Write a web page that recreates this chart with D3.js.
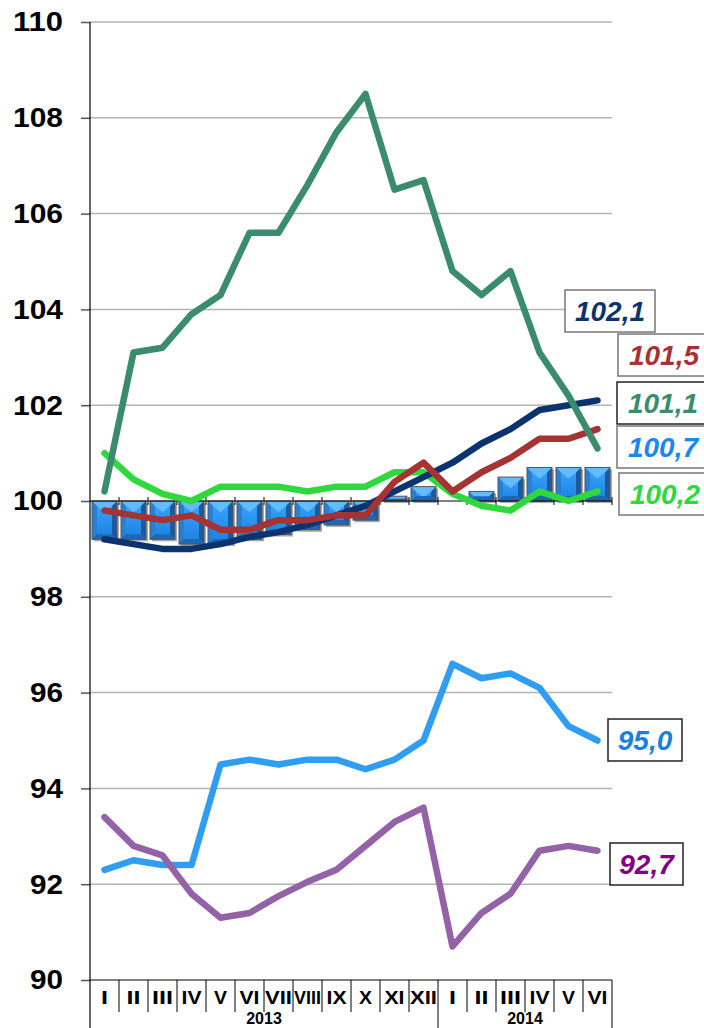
<!DOCTYPE html>
<html>
<head>
<meta charset="utf-8">
<script src="https://cdn.jsdelivr.net/npm/d3@7"></script>
<style>
  html, body { margin: 0; padding: 0; background: #fff; }
  svg { display: block; font-family: "Liberation Sans", Arial, sans-serif; }
</style>
</head>
<body>
<div id="chart"></div>
<script>
// Données
const months = ["I","II","III","IV","V","VI","VII","VIII","IX","X","XI","XII","I","II","III","IV","V","VI"];
const years = [{ label: "2013", from: 0, to: 12 }, { label: "2014", from: 12, to: 18 }];
const yTicks = [90, 92, 94, 96, 98, 100, 102, 104, 106, 108, 110];

const barValues   = [99.2, 99.2, 99.2, 99.1, 99.1, 99.2, 99.3, 99.4, 99.5, 99.6, 100.1, 100.3, 100.0, 100.2, 100.5, 100.7, 100.7, 100.7];
const seaGreen    = [100.2, 103.1, 103.2, 103.9, 104.3, 105.6, 105.6, 106.6, 107.7, 108.5, 106.5, 106.7, 104.8, 104.3, 104.8, 103.1, 102.2, 101.1];
const navy        = [99.2, 99.1, 99.0, 99.0, 99.1, 99.25, 99.35, 99.5, 99.7, 99.9, 100.2, 100.5, 100.8, 101.2, 101.5, 101.9, 102.0, 102.1];
const red         = [99.8, 99.7, 99.6, 99.7, 99.4, 99.4, 99.6, 99.6, 99.7, 99.7, 100.4, 100.8, 100.2, 100.6, 100.9, 101.3, 101.3, 101.5];
const lightGreen  = [101.0, 100.45, 100.15, 100.0, 100.3, 100.3, 100.3, 100.2, 100.3, 100.3, 100.6, 100.6, 100.15, 99.9, 99.8, 100.2, 100.0, 100.2];
const skyBlue     = [92.3, 92.5, 92.4, 92.4, 94.5, 94.6, 94.5, 94.6, 94.6, 94.4, 94.6, 95.0, 96.6, 96.3, 96.4, 96.1, 95.3, 95.0];
const purple      = [93.4, 92.8, 92.6, 91.8, 91.3, 91.4, 91.75, 92.05, 92.3, 92.8, 93.3, 93.6, 90.7, 91.4, 91.8, 92.7, 92.8, 92.7];

// Séries (ordre de dessin : le dernier est au-dessus)
const series = [
  { name: "skyBlue",    values: skyBlue,    color: "#2f9ef2", text: "#1a7fdf" },
  { name: "purple",     values: purple,     color: "#9462a6", text: "#800080" },
  { name: "lightGreen", values: lightGreen, color: "#2fd83c", text: "#2fd83c" },
  { name: "navy",       values: navy,       color: "#0b336e", text: "#0b336e" },
  { name: "red",        values: red,        color: "#a63333", text: "#a63333" },
  { name: "seaGreen",   values: seaGreen,   color: "#3a8c6c", text: "#3a8c6c" }
];

// Étiquettes finales (mise en page)
const labelBoxes = {
  navy:       { x: 565, y: 290, w: 90, stroke: "#777" },
  red:        { x: 618, y: 334, w: 92, stroke: "#777" },
  seaGreen:   { x: 617, y: 382, w: 92, stroke: "#222" },
  bars:       { x: 617, y: 426, w: 92, stroke: "#777" },
  lightGreen: { x: 619, y: 473, w: 92, stroke: "#777" },
  skyBlue:    { x: 608, y: 719, w: 74, stroke: "#222" },
  purple:     { x: 610, y: 843, w: 73, stroke: "#222" }
};

const W = 704, H = 1028;
const margin = { top: 22, left: 90 };
const plotW = 522, plotH = 958;

const svg = d3.select("#chart").append("svg")
  .attr("width", W).attr("height", H);

const x = d3.scaleBand().domain(d3.range(months.length)).range([margin.left, margin.left + plotW]).padding(0);
const y = d3.scaleLinear().domain([90, 110]).range([margin.top + plotH, margin.top]);
const fmt = v => d3.format(".1f")(v).replace(".", ",");

// Grille
svg.append("g").selectAll("line")
  .data(yTicks.filter(t => t !== 90 && t !== 100))
  .join("line")
  .attr("x1", margin.left).attr("x2", margin.left + plotW)
  .attr("y1", d => y(d)).attr("y2", d => y(d))
  .attr("stroke", "#b3b3b3").attr("stroke-width", 1.5);

// Axe Y
const yAxis = svg.append("g").attr("transform", `translate(${margin.left},0)`)
  .call(d3.axisLeft(y).tickValues(yTicks).tickSize(9).tickPadding(0).tickFormat(d3.format("d")));
yAxis.select(".domain").remove();
yAxis.selectAll(".tick line").attr("stroke", "#555").attr("stroke-width", 1.5);
yAxis.selectAll(".tick text")
  .attr("x", -27)
  .attr("font-size", 28).attr("font-weight", "bold").attr("fill", "#000")
  .attr("font-family", "Liberation Sans, Arial, sans-serif")
  .attr("textLength", 50).attr("lengthAdjust", "spacingAndGlyphs");
yAxis.selectAll(".tick text").filter(d => d < 100).attr("textLength", 33);
svg.append("line")
  .attr("x1", margin.left).attr("x2", margin.left)
  .attr("y1", margin.top).attr("y2", H)
  .attr("stroke", "#000").attr("stroke-width", 1.2);

// Barres biseautées
const defs = svg.append("defs");
const grad = defs.append("linearGradient").attr("id", "barFace").attr("x1", 0).attr("x2", 0).attr("y1", 0).attr("y2", 1);
grad.append("stop").attr("offset", "0%").attr("stop-color", "#3aa6ff");
grad.append("stop").attr("offset", "100%").attr("stop-color", "#1b80e0");

const barW = 25;
svg.append("g").selectAll("g")
  .data(barValues.map((v, i) => ({ i, v })).filter(d => Math.abs(d.v - 100) > 0.01))
  .join("g")
  .each(function(d) {
    const g = d3.select(this);
    const bx = x(d.i) + (x.bandwidth() - barW) / 2;
    const by = Math.min(y(d.v), y(100));
    const bh = Math.abs(y(d.v) - y(100));
    const b = Math.min(5, bh / 2, barW / 2);
    const p = pts => pts.map(q => q.join(",")).join(" ");
    g.append("rect").attr("x", bx + 2).attr("y", by + 2).attr("width", barW).attr("height", bh)
      .attr("fill", "#a8a8a8");
    g.append("rect").attr("x", bx).attr("y", by).attr("width", barW).attr("height", bh)
      .attr("fill", "url(#barFace)");
    g.append("polygon").attr("points", p([[bx, by], [bx + barW, by], [bx + barW - b, by + b], [bx + barW / 2, by + Math.min(bh, b + 6)], [bx + b, by + b]]))
      .attr("fill", "#62bcff");
    g.append("polygon").attr("points", p([[bx, by], [bx + b, by + b], [bx + b, by + bh - b], [bx, by + bh]]))
      .attr("fill", "#2a7fd0");
    g.append("polygon").attr("points", p([[bx + barW, by], [bx + barW, by + bh], [bx + barW - b, by + bh - b], [bx + barW - b, by + b]]))
      .attr("fill", "#1a5aa0");
    g.append("polygon").attr("points", p([[bx, by + bh], [bx + b, by + bh - b], [bx + barW - b, by + bh - b], [bx + barW, by + bh]]))
      .attr("fill", "#1d67b4");
    g.append("rect").attr("x", bx).attr("y", by).attr("width", barW).attr("height", bh)
      .attr("fill", "none").attr("stroke", "#555").attr("stroke-width", 1);
  });

// Ligne de base 100 avec graduations
svg.append("line")
  .attr("x1", margin.left).attr("x2", margin.left + plotW)
  .attr("y1", y(100)).attr("y2", y(100))
  .attr("stroke", "#000").attr("stroke-width", 1.2);
svg.append("g").selectAll("line")
  .data(d3.range(1, months.length + 1))
  .join("line")
  .attr("x1", i => i < months.length ? x(i) : margin.left + plotW)
  .attr("x2", i => i < months.length ? x(i) : margin.left + plotW)
  .attr("y1", y(100) - 4).attr("y2", y(100) + 4)
  .attr("stroke", "#000").attr("stroke-width", 1);

// Lignes
const line = d3.line().x((d, i) => x(i) + x.bandwidth() / 2).y(d => y(d));
svg.append("g").selectAll("path")
  .data(series)
  .join("path")
  .attr("d", d => line(d.values))
  .attr("fill", "none")
  .attr("stroke", d => d.color)
  .attr("stroke-width", 6.5)
  .attr("stroke-linejoin", "round")
  .attr("stroke-linecap", "round");

// Axe X (tableau)
const axisY = y(90);
svg.append("line")
  .attr("x1", margin.left).attr("x2", margin.left + plotW)
  .attr("y1", axisY).attr("y2", axisY)
  .attr("stroke", "#000").attr("stroke-width", 1.2);
const yearStarts = new Set(years.map(yr => yr.from).concat([months.length]));
svg.append("g").selectAll("line")
  .data(d3.range(1, months.length + 1))
  .join("line")
  .attr("x1", i => i < months.length ? x(i) : margin.left + plotW)
  .attr("x2", i => i < months.length ? x(i) : margin.left + plotW)
  .attr("y1", axisY)
  .attr("y2", i => yearStarts.has(i) ? H : axisY + 32)
  .attr("stroke", "#000").attr("stroke-width", 1);
svg.append("g").selectAll("text")
  .data(months)
  .join("text")
  .attr("x", (d, i) => x(i) + x.bandwidth() / 2)
  .attr("y", axisY + 24)
  .attr("text-anchor", "middle")
  .attr("font-size", 18).attr("font-weight", "bold")
  .attr("textLength", d => Math.min(27, d.length * 7 + (d.includes("V") || d.includes("X") ? 6 : 0)))
  .attr("lengthAdjust", "spacingAndGlyphs")
  .text(d => d);
svg.append("g").selectAll("text")
  .data(years)
  .join("text")
  .attr("x", d => (x(d.from) + (d.to < months.length ? x(d.to) : margin.left + plotW)) / 2)
  .attr("y", H - 4)
  .attr("text-anchor", "middle")
  .attr("font-size", 16).attr("font-weight", "bold")
  .text(d => d.label);

// Étiquettes des valeurs finales
const labelData = series.map(s => ({ key: s.name, value: s.values[s.values.length - 1], color: s.text }))
  .concat([{ key: "bars", value: barValues[barValues.length - 1], color: "#1a86ee" }]);
const labels = svg.append("g").selectAll("g")
  .data(labelData)
  .join("g")
  .attr("transform", d => `translate(${labelBoxes[d.key].x},${labelBoxes[d.key].y})`);
labels.append("rect")
  .attr("width", d => labelBoxes[d.key].w).attr("height", 42)
  .attr("fill", "#fff")
  .attr("stroke", d => labelBoxes[d.key].stroke).attr("stroke-width", 1.5);
labels.append("text")
  .attr("x", d => labelBoxes[d.key].w / 2).attr("y", 31)
  .attr("text-anchor", "middle")
  .attr("font-size", 28).attr("font-weight", "bold").attr("font-style", "italic")
  .attr("fill", d => d.color)
  .text(d => fmt(d.value));
</script>
</body>
</html>
